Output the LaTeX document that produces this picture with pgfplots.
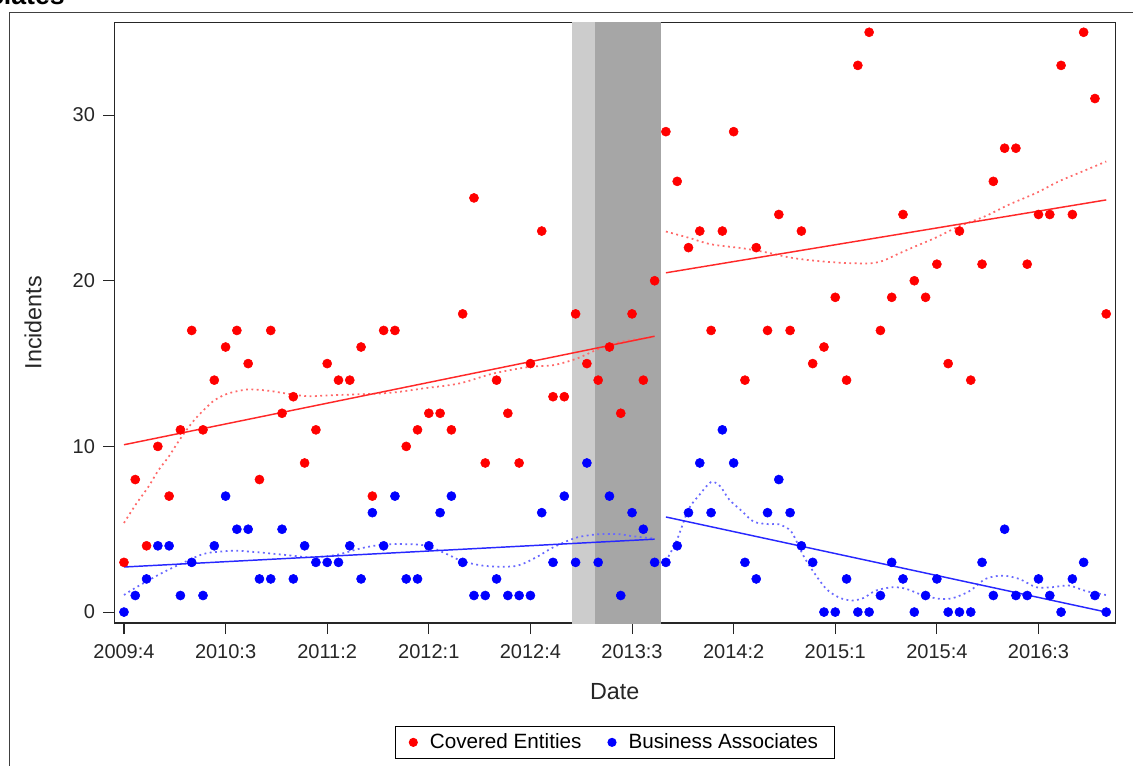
\documentclass[border=0pt]{standalone}
\usepackage{fontspec}
\setmainfont{Liberation Sans}
\usepackage{pgfplots}
\pgfplotsset{compat=1.18}
\definecolor{lgray}{RGB}{204,204,204}
\definecolor{dgray}{RGB}{166,166,166}
\definecolor{rdot}{RGB}{255,105,105}
\definecolor{bdot}{RGB}{105,105,255}
\definecolor{rline}{RGB}{255,40,40}
\definecolor{bline}{RGB}{40,40,255}
\newcommand{\lf}{\fontsize{15pt}{18pt}\selectfont}
\newcommand{\gf}{\fontsize{15.5pt}{18pt}\selectfont}
\newcommand{\af}{\fontsize{17.5pt}{21pt}\selectfont}
\begin{document}
\begin{tikzpicture}
\useasboundingbox (0,0) rectangle (849.75pt,573.75pt);
\clip (0,0) rectangle (849.75pt,573.75pt);
\draw[line width=0.75pt, black!75] (6.75pt,-5pt) -- (6.75pt,564.5pt) -- (860pt,564.5pt);
\node[anchor=base east, inner sep=0pt, font=\bfseries\fontsize{20pt}{24pt}\selectfont] at (48.75pt,570pt) {Business Associates};
\begin{axis}[
  at={(85.7pt,106.5pt)}, anchor=south west,
  width=750.75pt, height=450.5pt, scale only axis,
  xmin=-0.86, xmax=87.8, ymin=-0.66, ymax=35.6,
  xtick={0,9,...,81},
  xticklabels={2009:4,2010:3,2011:2,2012:1,2012:4,2013:3,2014:2,2015:1,2015:4,2016:3},
  ytick={0,10,20,30},
  tick pos=left, tick align=outside, major tick length=8.25pt,
  tick style={line width=0.8pt, black!85},
  axis line style={line width=1.1pt, black!85},
  ticklabel style={font=\lf, text=black!85},
  xticklabel style={yshift=-4pt},
  yticklabel style={xshift=-2.7pt},
  /pgf/number format/assume math mode=true,
  xlabel={Date}, ylabel={Incidents},
  label style={font=\af, text=black!85},
  xlabel style={at={(axis description cs:0.5,-0.114)}, anchor=center},
  ylabel style={at={(axis description cs:-0.0812,0.5)}, anchor=center},
  legend columns=2,
  legend style={at={(0.5,-0.1715)}, anchor=north, font=\gf, draw=black, line width=0.8pt,
    inner xsep=10pt, inner ysep=3.5pt,
    /tikz/every odd column/.append style={column sep=7pt},
    /tikz/every even column/.append style={column sep=17.5pt}},
]
% shaded periods
\addplot[draw=none, fill=lgray, forget plot] coordinates {(39.7,-1) (41.7,-1) (41.7,36) (39.7,36)};
\addplot[draw=none, fill=dgray, forget plot] coordinates {(41.7,-1) (47.6,-1) (47.6,36) (41.7,36)};
% smooth (dotted) curves
\addplot[rdot, line width=1.3pt, dash pattern=on 1.4pt off 2.6pt, smooth, forget plot] coordinates {
(0,5.38)(1.1,6.55)(2.15,7.55)(3.05,8.56)(3.95,9.37)(4.8,10.27)(5.55,11.0)(6.3,11.65)(7.2,12.29)(8.05,12.8)(9.25,13.2)(11,13.44)(12.8,13.36)(14.3,13.2)(16.3,13.03)(18.4,13.09)(21,13.15)(23.8,13.25)(26.5,13.5)(29.7,13.8)(32.7,14.4)(35.9,14.8)(38,14.9)(40.1,15.3)(42.1,15.9)(43.9,16.3)(46.8,16.6)};
\addplot[rdot, line width=1.3pt, dash pattern=on 1.4pt off 2.6pt, smooth, forget plot] coordinates {
(48,22.97)(50,22.6)(52,22.2)(54.8,21.96)(57,21.7)(59,21.4)(61.3,21.2)(63.7,21.08)(66,21.05)(67.2,21.2)(68.5,21.6)(70,22.05)(71.9,22.6)(74,23.3)(76.3,23.9)(78.4,24.6)(80.8,25.3)(82.8,26.0)(84.9,26.6)(87,27.2)};
\addplot[bdot, line width=1.3pt, dash pattern=on 1.4pt off 2.6pt, smooth, forget plot] coordinates {
(0,1.03)(1.1,1.5)(3.2,2.3)(5,2.9)(7,3.5)(8.5,3.65)(10,3.7)(12,3.6)(15,3.4)(16.5,3.3)(18.8,3.45)(21,3.85)(22.9,4.07)(25,4.1)(26.8,4.0)(28.6,3.5)(30,3.06)(32.1,2.78)(34.7,2.78)(36.5,3.3)(38,3.9)(40.1,4.5)(42.1,4.7)(43.9,4.7)(44.8,4.6)(46.8,4.45)};
\addplot[bdot, line width=1.3pt, dash pattern=on 1.4pt off 2.6pt, smooth, forget plot] coordinates {
(48,3.06)(49,4.4)(50,6.2)(51,7.1)(52,7.85)(52.8,7.6)(53.6,6.8)(54.8,6.05)(55.8,5.45)(57.2,5.3)(58,5.3)(59.1,4.86)(60.1,3.5)(60.9,2.6)(62.2,1.4)(63.4,0.86)(64.5,0.7)(65.5,0.85)(66.6,1.3)(68.1,1.5)(69.3,1.4)(70.7,1.03)(72.2,0.8)(73.4,0.84)(74.9,1.27)(76.3,2.0)(77.8,2.2)(79.3,2.0)(80.8,1.5)(82.2,1.5)(83.7,1.6)(85.2,1.27)(87,1.03)};
% linear trends
\addplot[rline, line width=1.1pt, forget plot] coordinates {(0,10.1) (47,16.65)};
\addplot[rline, line width=1.1pt, forget plot] coordinates {(48,20.48) (87,24.88)};
\addplot[bline, line width=1.1pt, forget plot] coordinates {(0,2.72) (47,4.4)};
\addplot[bline, line width=1.1pt, forget plot] coordinates {(48,5.74) (87,0)};
% data
\addplot[only marks, mark=*, mark size=3.4pt, color=red, mark options={draw=none, fill=red},
  legend image code/.code={\fill[red] (0pt,0pt) circle (3pt);}] coordinates {
(0,3)(1,8)(2,4)(3,10)(4,7)(5,11)(6,17)(7,11)(8,14)(9,16)(10,17)(11,15)(12,8)(13,17)(14,12)(15,13)(16,9)(17,11)(18,15)(19,14)(20,14)(21,16)(22,7)(23,17)(24,17)(25,10)(26,11)(27,12)(28,12)(29,11)(30,18)(31,25)(32,9)(33,14)(34,12)(35,9)(36,15)(37,23)(38,13)(39,13)(40,18)(41,15)(42,14)(43,16)(44,12)(45,18)(46,14)(47,20)(48,29)(49,26)(50,22)(51,23)(52,17)(53,23)(54,29)(55,14)(56,22)(57,17)(58,24)(59,17)(60,23)(61,15)(62,16)(63,19)(64,14)(65,33)(66,35)(67,17)(68,19)(69,24)(70,20)(71,19)(72,21)(73,15)(74,23)(75,14)(76,21)(77,26)(78,28)(79,28)(80,21)(81,24)(82,24)(83,33)(84,24)(85,35)(86,31)(87,18)};
\addlegendentry{Covered Entities}
\addplot[only marks, mark=*, mark size=3.4pt, color=blue, mark options={draw=none, fill=blue},
  legend image code/.code={\fill[blue] (0pt,0pt) circle (3pt);}] coordinates {
(0,0)(1,1)(2,2)(3,4)(4,4)(5,1)(6,3)(7,1)(8,4)(9,7)(10,5)(11,5)(12,2)(13,2)(14,5)(15,2)(16,4)(17,3)(18,3)(19,3)(20,4)(21,2)(22,6)(23,4)(24,7)(25,2)(26,2)(27,4)(28,6)(29,7)(30,3)(31,1)(32,1)(33,2)(34,1)(35,1)(36,1)(37,6)(38,3)(39,7)(40,3)(41,9)(42,3)(43,7)(44,1)(45,6)(46,5)(47,3)(48,3)(49,4)(50,6)(51,9)(52,6)(53,11)(54,9)(55,3)(56,2)(57,6)(58,8)(59,6)(60,4)(61,3)(62,0)(63,0)(64,2)(65,0)(66,0)(67,1)(68,3)(69,2)(70,0)(71,1)(72,2)(73,0)(74,0)(75,0)(76,3)(77,1)(78,5)(79,1)(80,1)(81,2)(82,1)(83,0)(84,2)(85,3)(86,1)(87,0)};
\addlegendentry{Business Associates}
\end{axis}
\end{tikzpicture}
\end{document}
